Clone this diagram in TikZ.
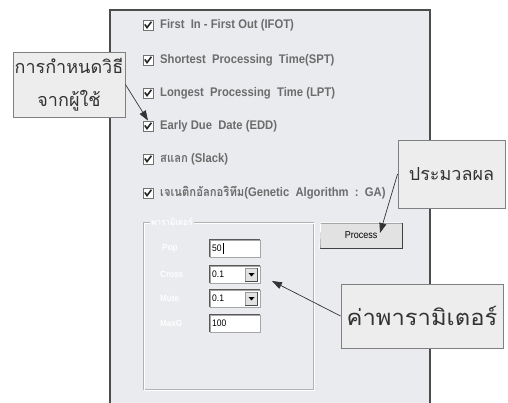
\documentclass[tikz,border=0pt]{standalone}
\usepackage{fontspec}
\setmainfont{Liberation Sans}
\newfontfamily\thai[Script=Thai]{Loma}
\newfontfamily\thaiw[Script=Thai,FakeStretch=1.08]{Loma}
\newfontfamily\ui[FakeStretch=0.9]{Liberation Sans}
\newfontfamily\uithai[Script=Thai,FakeStretch=0.9]{Loma}
\usetikzlibrary{arrows.meta}
\definecolor{panel}{HTML}{E9EBEE}
\definecolor{lbl}{HTML}{6C6C6C}
\definecolor{cbox}{HTML}{EDEDED}
\definecolor{cborder}{HTML}{808080}
\definecolor{btn}{HTML}{E2E2E2}
\begin{document}
\begin{tikzpicture}[x=1pt,y=-1pt,
  lab/.style={anchor=west, inner sep=0pt, font=\ui\fontsize{12.5}{14}\selectfont\bfseries, text=lbl},
  cb/.style={draw=black!55, fill=white, line width=0.8pt, minimum size=10pt, inner sep=0pt},
  tick/.pic={\draw[line width=1.6pt, black!85] (-3.2,-0.6) -- (-1,2.6) -- (3.4,-3.2);},
  callout/.style={draw=cborder, fill=cbox, line width=0.9pt, inner sep=0pt, text=black!80, align=center},
  arr/.style={-{Triangle[length=10pt,width=7pt]}, line width=0.7pt, draw=black!80},
  field/.style={draw=black!35, fill=white, line width=0.8pt, minimum width=50pt, minimum height=17pt, inner sep=0pt},
  ftext/.style={anchor=west, inner sep=0pt, font=\ui\fontsize{9.5}{10}\selectfont, text=black},
  faint/.style={anchor=west, inner sep=0pt, font=\ui\fontsize{9}{10}\selectfont\bfseries, text=white!96!panel},
  combobtn/.style={fill=btn, draw=black!40, line width=0.6pt, minimum width=12pt, minimum height=13pt, inner sep=0pt}]
\useasboundingbox (0,0) rectangle (508,403);
\fill[white] (0,0) rectangle (508,403);
% window panel
\fill[panel] (110,10) rectangle (430,403);
\draw[black!70, line width=1.6pt] (110,403) -- (110,10) -- (430,10) -- (430,403);

% check boxes and labels
\node[cb] (c1) at (148,25) {};  \pic at (c1) {tick};
\node[lab] (t1) at (160,25) {First\ \ In - First Out (IFOT)};
\node[cb] (c2) at (148,60) {};  \pic at (c2) {tick};
\node[lab] (t2) at (160,60) {Shortest\ \ Processing\ \ Time(SPT)};
\node[cb] (c3) at (148,93) {};  \pic at (c3) {tick};
\node[lab] (t3) at (160,93) {Longest\ \ Processing\ \ Time (LPT)};
\node[cb] (c4) at (148,126) {}; \pic at (c4) {tick};
\node[lab] (t4) at (160,126) {Early Due\ \ Date (EDD)};
\node[cb] (c5) at (148,159) {}; \pic at (c5) {tick};
\node[lab] (t5) at (160,159) {{\uithai สแลก} (Slack)};
\node[cb] (c6) at (148,193) {}; \pic at (c6) {tick};
\node[lab] (t6) at (160,193) {{\uithai เจเนติกอัลกอริทึม}(Genetic\ \ Algorithm\ \ :\ \ GA)};

% group box
\draw[black!30, line width=0.8pt] (143,222) rectangle (313,389);
\draw[white, line width=0.8pt] (144,223) rectangle (314,390);
\node[anchor=west, fill=panel, inner sep=1pt, font=\uithai\fontsize{9}{10}\selectfont\bfseries, text=white!96!panel] (gt) at (150,222) {พารามิเตอร์};

% parameter labels and fields
\node[faint] (l1) at (162,248) {Pop};
\node[faint] (l2) at (160,274) {Cross};
\node[faint] (l3) at (160,298) {Mute};
\node[faint] (l4) at (160,323) {MaxG};
\node[field] (f1) at (235,248.5) {};
\node[field] (f2) at (235,274.5) {};
\node[field] (f3) at (235,298.5) {};
\node[field] (f4) at (235,323.5) {};
\foreach \f in {f1,f2,f3,f4}{
  \draw[black!65, line width=1pt] (\f.south west) -- (\f.north west) -- (\f.north east);
}
\node[ftext] (v1) at (212,248.5) {50};
\draw[black, line width=0.6pt] (223,243) -- (223,254);
\node[ftext] (v2) at (212,274.5) {0.1};
\node[ftext] (v3) at (212,298.5) {0.1};
\node[ftext] (v4) at (212,323.5) {100};
\node[combobtn] (b2) at (251.5,274.5) {};
\node[combobtn] (b3) at (251.5,298.5) {};
\foreach \b in {b2,b3}{
  \fill[black] ([xshift=-3pt,yshift=1.5pt]\b.center) -- ([xshift=3pt,yshift=1.5pt]\b.center) -- ([yshift=-2pt]\b.center) -- cycle;
  \draw[black!70, line width=0.8pt] (\b.south west) -- (\b.south east) -- (\b.north east);
}

% process button
\node[fill=btn, draw=black!40, line width=0.6pt, minimum width=82pt, minimum height=25pt, inner sep=0pt, font=\ui\fontsize{10}{11}\selectfont, text=black] (proc) at (361,235.5) {Process};
\draw[black!75, line width=1.2pt] (proc.south west) -- (proc.south east) -- (proc.north east);
\draw[white, line width=0.8pt] ([yshift=-1pt]proc.south west) -- ([xshift=1pt]proc.north west) -- ([xshift=-1pt]proc.north east);

% callouts
\node[callout, minimum width=112pt, minimum height=65pt, font=\thai\fontsize{18}{33}\selectfont] (ca) at (69,84.5) {การกำหนดวิธี\\จากผู้ใช้};
\node[callout, minimum width=107pt, minimum height=68pt, font=\thai\fontsize{18}{20}\selectfont] (cbx) at (451.5,174) {ประมวลผล};
\node[callout, minimum width=162pt, minimum height=64pt, font=\thaiw\fontsize{22}{24}\selectfont] (cc) at (422,316) {ค่าพารามิเตอร์};

% arrows
\coordinate (p1) at (380,233);
\coordinate (p2) at (272,281);
\draw[arr] (ca.east) -- (c4.north);
\draw[arr] (cbx.west) -- (p1);
\draw[arr] (cc.west) -- (p2);
\end{tikzpicture}
\end{document}
